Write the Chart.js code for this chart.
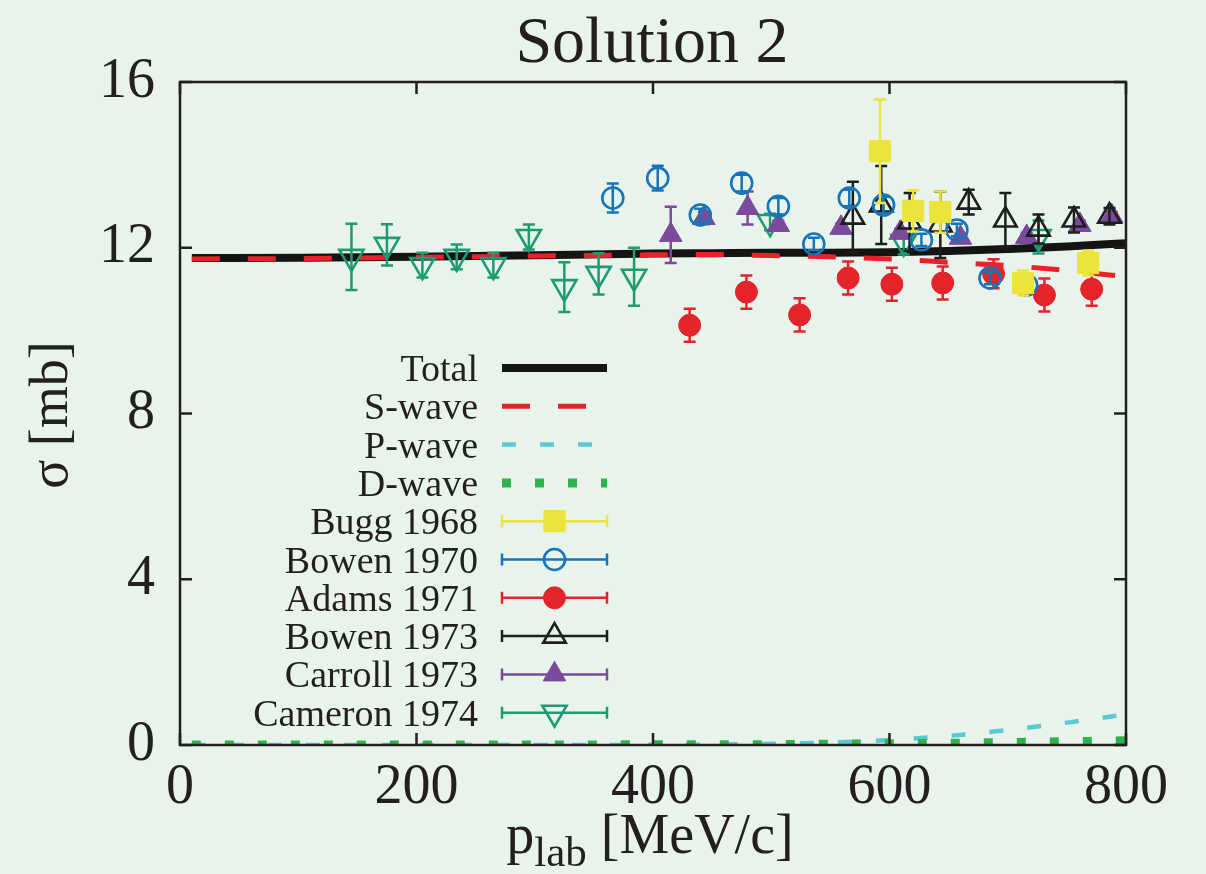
<!DOCTYPE html>
<html>
<head>
<meta charset="utf-8">
<title>Solution 2</title>
<script src="https://cdn.jsdelivr.net/npm/chart.js@4.4.0/dist/chart.umd.min.js"></script>
<style>
  html, body { margin: 0; padding: 0; background: #e8f4eb; }
</style>
</head>
<body>
<canvas id="chart" width="1206" height="874"></canvas>
<script>
// curves (p_lab in MeV/c, sigma in mb)
const curveX = [10, 100, 200, 300, 400, 450, 500, 550, 600, 650, 700, 750, 800];
const totalY = [11.75, 11.76, 11.78, 11.82, 11.86, 11.87, 11.88, 11.88, 11.89, 11.92, 11.97, 12.03, 12.11];
const sWaveY = [11.73, 11.74, 11.77, 11.80, 11.83, 11.84, 11.81, 11.78, 11.73, 11.65, 11.57, 11.45, 11.30];
const pWaveY = [0, 0, 0, 0, 0.005, 0.01, 0.03, 0.06, 0.12, 0.22, 0.36, 0.54, 0.74];
const dWaveY = [0, 0, 0, 0, 0.005, 0.005, 0.01, 0.02, 0.03, 0.04, 0.06, 0.08, 0.1];

// experimental data
const buggX = [592, 620, 643, 713, 768];
const buggY = [14.33, 12.89, 12.86, 11.15, 11.63];
const buggErr = [1.25, 0.5, 0.5, 0.3, 0.3];

const bowen70X = [366, 404, 440, 475, 506, 536, 566, 595, 627, 657, 685, 716];
const bowen70Y = [13.2, 13.68, 12.79, 13.56, 13.0, 12.09, 13.2, 13.03, 12.19, 12.43, 11.27, 11.1];
const bowen70Err = [0.35, 0.3, 0.15, 0.2, 0.2, 0.15, 0.2, 0.2, 0.15, 0.15, 0.15, 0.2];

const adamsX = [431, 479, 524, 565, 602, 645, 688, 731, 771];
const adamsY = [10.13, 10.93, 10.38, 11.27, 11.12, 11.15, 11.37, 10.86, 11.0];
const adamsErr = [0.4, 0.4, 0.4, 0.4, 0.4, 0.4, 0.35, 0.4, 0.4];

const bowen73X = [569, 593, 617, 643, 667, 698, 726, 756, 786];
const bowen73Y = [12.74, 13.03, 12.62, 12.55, 13.1, 12.67, 12.45, 12.67, 12.76];
const bowen73Err = [0.85, 0.94, 0.7, 0.8, 0.3, 0.65, 0.35, 0.3, 0.2];

const carrollX = [415, 443, 480, 506, 559, 609, 660, 716, 761, 788];
const carrollY = [12.31, 12.72, 12.96, 12.55, 12.48, 12.36, 12.24, 12.26, 12.55, 12.76];
const carrollErr = [0.68, 0.15, 0.4, 0.1, 0.1, 0.1, 0.1, 0.1, 0.1, 0.1];

const cameronX = [145, 175, 205, 234, 265, 295, 325, 354, 384, 499, 612, 726];
const cameronY = [11.78, 12.07, 11.58, 11.78, 11.58, 12.26, 11.05, 11.37, 11.3, 12.62, 12.14, 12.26];
const cameronErr = [0.8, 0.5, 0.3, 0.3, 0.3, 0.3, 0.6, 0.5, 0.7, 0.2, 0.3, 0.4];

const xTicks = [0, 200, 400, 600, 800];
const yTicks = [0, 4, 8, 12, 16];

const BG = '#e8f4eb';
const INK = '#231f20';
const SERIF = '"Liberation Serif", "Times New Roman", serif';

const toXY = (xs, ys) => xs.map((x, i) => ({ x: x, y: ys[i] }));

// higher order is drawn first, so Total sits under the partial waves
function curve(label, ys, color, width, dash, order) {
  return {
    type: 'line', label, data: toXY(curveX, ys),
    borderColor: color, borderWidth: width, borderDash: dash,
    borderCapStyle: 'butt', pointRadius: 0,
    cubicInterpolationMode: 'monotone', order
  };
}

function points(label, xs, ys, errs, color, style, radius, filled, rotation) {
  return {
    type: 'scatter', label, data: toXY(xs, ys), errorBars: errs,
    borderColor: color, backgroundColor: filled ? color : 'rgba(0,0,0,0)',
    pointStyle: style, pointRadius: radius, pointBorderWidth: filled ? 1 : 2.6,
    pointRotation: rotation || 0, showLine: false, order: 1
  };
}

const datasets = [
  curve('Total', totalY, '#141414', 8, [], 14),
  curve('S-wave', sWaveY, '#e8212b', 5, [28, 28], 13),
  curve('P-wave', pWaveY, '#5bc8d6', 4.5, [14, 24], 12),
  curve('D-wave', dWaveY, '#2eb34b', 9, [9, 24], 11),
  points('Bugg 1968', buggX, buggY, buggErr, '#ece43c', 'rect', 15, true),
  points('Bowen 1970', bowen70X, bowen70Y, bowen70Err, '#1674b9', 'circle', 10.5, false),
  points('Adams 1971', adamsX, adamsY, adamsErr, '#e5232a', 'circle', 11, true),
  points('Bowen 1973', bowen73X, bowen73Y, bowen73Err, '#1e1e1e', 'triangle', 13, false),
  points('Carroll 1973', carrollX, carrollY, carrollErr, '#7b4a9c', 'triangle', 13, true),
  points('Cameron 1974', cameronX, cameronY, cameronErr, '#1f9a72', 'triangle', 14, false, 180)
];

// background fill
const bgPlugin = {
  id: 'bg',
  beforeDraw(chart) {
    const ctx = chart.ctx;
    ctx.save();
    ctx.fillStyle = BG;
    ctx.fillRect(0, 0, chart.width, chart.height);
    ctx.restore();
  }
};

// vertical error bars, drawn just under each data set's markers
const errorBarPlugin = {
  id: 'errorBars',
  beforeDatasetDraw(chart, args) {
    const ds = chart.data.datasets[args.index];
    if (!ds.errorBars) return;
    const xs = chart.scales.x, ys = chart.scales.y, ctx = chart.ctx;
    ctx.save();
    ctx.strokeStyle = ds.borderColor;
    ctx.lineWidth = 2.5;
    ds.data.forEach((p, i) => {
      const e = ds.errorBars[i];
      const px = xs.getPixelForValue(p.x);
      const top = ys.getPixelForValue(p.y + e);
      const bot = ys.getPixelForValue(p.y - e);
      ctx.beginPath();
      ctx.moveTo(px, top); ctx.lineTo(px, bot);
      ctx.moveTo(px - 6, top); ctx.lineTo(px + 6, top);
      ctx.moveTo(px - 6, bot); ctx.lineTo(px + 6, bot);
      ctx.stroke();
    });
    ctx.restore();
  }
};

// gnuplot style frame with inward ticks on all four sides
const framePlugin = {
  id: 'frame',
  afterDatasetsDraw(chart) {
    const { ctx, chartArea: a, scales } = chart;
    ctx.save();
    ctx.strokeStyle = INK;
    ctx.lineWidth = 2.5;
    ctx.strokeRect(a.left, a.top, a.right - a.left, a.bottom - a.top);
    ctx.beginPath();
    xTicks.forEach(v => {
      const px = scales.x.getPixelForValue(v);
      ctx.moveTo(px, a.bottom); ctx.lineTo(px, a.bottom - 12);
      ctx.moveTo(px, a.top); ctx.lineTo(px, a.top + 12);
    });
    yTicks.forEach(v => {
      const py = scales.y.getPixelForValue(v);
      ctx.moveTo(a.left, py); ctx.lineTo(a.left + 12, py);
      ctx.moveTo(a.right, py); ctx.lineTo(a.right - 12, py);
    });
    ctx.stroke();
    ctx.restore();
  }
};

// title, axis titles and the legend inside the plot
const textPlugin = {
  id: 'texts',
  afterDraw(chart) {
    const ctx = chart.ctx;
    ctx.save();
    ctx.fillStyle = INK;
    ctx.textAlign = 'center';
    ctx.textBaseline = 'alphabetic';
    ctx.font = '66px ' + SERIF;
    ctx.fillText('Solution 2', 652, 62);

    // x title with subscript
    const big = '56px ' + SERIF, small = '43px ' + SERIF;
    ctx.font = big; const wP = ctx.measureText('p').width;
    const wRest = ctx.measureText(' [MeV/c]').width;
    ctx.font = small; const wSub = ctx.measureText('lab').width;
    let x0 = 650 - (wP + wSub + wRest) / 2;
    ctx.textAlign = 'left';
    ctx.font = big; ctx.fillText('p', x0, 853);
    ctx.font = small; ctx.fillText('lab', x0 + wP, 866);
    ctx.font = big; ctx.fillText(' [MeV/c]', x0 + wP + wSub, 853);

    // y title
    ctx.save();
    ctx.translate(67, 415);
    ctx.rotate(-Math.PI / 2);
    ctx.textAlign = 'center';
    ctx.font = '54px ' + SERIF;
    ctx.fillText('σ [mb]', 0, 0);
    ctx.restore();

    // legend
    ctx.font = '38px ' + SERIF;
    ctx.textAlign = 'right';
    chart.data.datasets.forEach((ds, i) => {
      const y = 368 + i * 38.3;
      ctx.fillStyle = INK;
      ctx.fillText(ds.label, 478, y + 13);
      const x1 = 502, x2 = 607;
      ctx.save();
      ctx.strokeStyle = ds.borderColor;
      if (ds.type === 'line') {
        ctx.lineWidth = ds.borderWidth;
        ctx.lineCap = 'butt';
        ctx.setLineDash(ds.borderDash);
        ctx.beginPath(); ctx.moveTo(x1, y); ctx.lineTo(x2, y); ctx.stroke();
      } else {
        ctx.lineWidth = 2.5;
        ctx.beginPath();
        ctx.moveTo(x1, y); ctx.lineTo(x2, y);
        ctx.moveTo(x1, y - 6); ctx.lineTo(x1, y + 6);
        ctx.moveTo(x2, y - 6); ctx.lineTo(x2, y + 6);
        ctx.stroke();
        ctx.fillStyle = ds.backgroundColor;
        ctx.lineWidth = ds.pointBorderWidth;
        Chart.helpers.drawPoint(ctx, {
          pointStyle: ds.pointStyle, radius: ds.pointRadius,
          rotation: ds.pointRotation, borderWidth: ds.pointBorderWidth
        }, (x1 + x2) / 2, y);
      }
      ctx.restore();
    });
    ctx.restore();
  }
};

new Chart(document.getElementById('chart'), {
  data: { datasets },
  options: {
    responsive: false,
    animation: false,
    events: [],
    layout: { padding: { top: 82, right: 80, left: 0, bottom: 0 } },
    plugins: { legend: { display: false }, title: { display: false }, tooltip: { enabled: false } },
    scales: {
      x: {
        type: 'linear', min: 0, max: 800,
        afterFit: s => { s.height = 129; },
        afterBuildTicks: s => { s.ticks = xTicks.map(v => ({ value: v })); },
        grid: { display: false, drawTicks: false },
        border: { display: false },
        ticks: { font: { family: SERIF, size: 56 }, color: INK, padding: 10, maxRotation: 0 }
      },
      y: {
        type: 'linear', min: 0, max: 16,
        afterFit: s => { s.width = 180; },
        afterBuildTicks: s => { s.ticks = yTicks.map(v => ({ value: v })); },
        grid: { display: false, drawTicks: false },
        border: { display: false },
        ticks: { font: { family: SERIF, size: 56 }, color: INK, padding: 25 }
      }
    }
  },
  plugins: [bgPlugin, errorBarPlugin, framePlugin, textPlugin]
});
</script>
</body>
</html>
